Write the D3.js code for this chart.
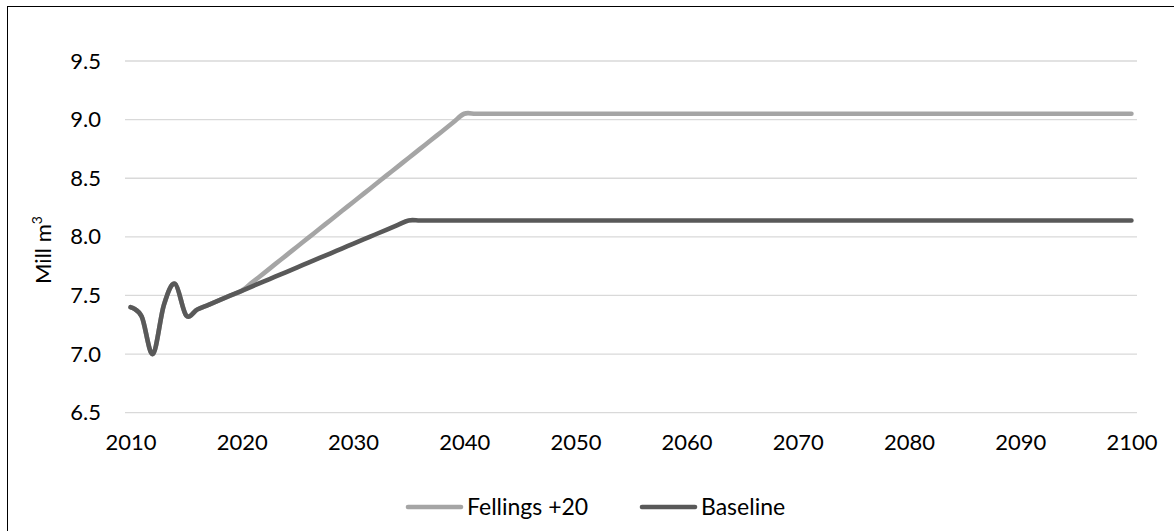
<!DOCTYPE html>
<html>
<head>
<meta charset="utf-8">
<script src="https://cdn.jsdelivr.net/npm/d3@7"></script>
<style>
  html, body { margin: 0; padding: 0; background: #fff; }
  svg text { font-family: Lato, "Open Sans", sans-serif; fill: #000; }
</style>
</head>
<body>
<svg id="chart" width="1174" height="531"></svg>
<script>
const years = [
  2010,2011,2012,2013,2014,2015,2016,2017,2018,2019,
  2020,2021,2022,2023,2024,2025,2026,2027,2028,2029,
  2030,2031,2032,2033,2034,2035,2036,2037,2038,2039,
  2040,2041,2042,2043,2044,2045,2046,2047,2048,2049,
  2050,2051,2052,2053,2054,2055,2056,2057,2058,2059,
  2060,2061,2062,2063,2064,2065,2066,2067,2068,2069,
  2070,2071,2072,2073,2074,2075,2076,2077,2078,2079,
  2080,2081,2082,2083,2084,2085,2086,2087,2088,2089,
  2090,2091,2092,2093,2094,2095,2096,2097,2098,2099,
  2100
];
const baseline = [
  7.40,7.32,7.00,7.42,7.60,7.33,7.38,7.42,7.46,7.50,
  7.54,7.58,7.62,7.66,7.70,7.74,7.78,7.82,7.86,7.90,
  7.94,7.98,8.02,8.06,8.10,8.14,8.14,8.14,8.14,8.14,
  8.14,8.14,8.14,8.14,8.14,8.14,8.14,8.14,8.14,8.14,
  8.14,8.14,8.14,8.14,8.14,8.14,8.14,8.14,8.14,8.14,
  8.14,8.14,8.14,8.14,8.14,8.14,8.14,8.14,8.14,8.14,
  8.14,8.14,8.14,8.14,8.14,8.14,8.14,8.14,8.14,8.14,
  8.14,8.14,8.14,8.14,8.14,8.14,8.14,8.14,8.14,8.14,
  8.14,8.14,8.14,8.14,8.14,8.14,8.14,8.14,8.14,8.14,
  8.14
];
const fellings20 = [
  7.40,7.32,7.00,7.42,7.60,7.33,7.38,7.42,7.46,7.50,
  7.540,7.616,7.691,7.767,7.842,7.918,7.993,8.069,8.144,8.220,
  8.295,8.371,8.446,8.522,8.597,8.673,8.748,8.824,8.899,8.975,
  9.05,9.05,9.05,9.05,9.05,9.05,9.05,9.05,9.05,9.05,
  9.05,9.05,9.05,9.05,9.05,9.05,9.05,9.05,9.05,9.05,
  9.05,9.05,9.05,9.05,9.05,9.05,9.05,9.05,9.05,9.05,
  9.05,9.05,9.05,9.05,9.05,9.05,9.05,9.05,9.05,9.05,
  9.05,9.05,9.05,9.05,9.05,9.05,9.05,9.05,9.05,9.05,
  9.05,9.05,9.05,9.05,9.05,9.05,9.05,9.05,9.05,9.05,
  9.05
];
const xTickLabels = [2010,2020,2030,2040,2050,2060,2070,2080,2090,2100];
const yTickLabels = [6.5,7.0,7.5,8.0,8.5,9.0,9.5];
const seriesNames = ["Fellings +20","Baseline"];
const seriesColors = ["#a5a5a5","#595959"];

const svg = d3.select("#chart");
const plotL = 125, plotR = 1137, plotT = 61, plotB = 412.7;

// outer frame
svg.append("rect").attr("x", 7.5).attr("y", 6.5).attr("width", 1180).attr("height", 540)
  .attr("fill", "none").attr("stroke", "#000").attr("stroke-width", 1);

const x = d3.scaleLinear().domain([years[0] - 0.5, years[years.length - 1] + 0.5]).range([plotL, plotR]);
const y = d3.scaleLinear().domain([6.5, 9.5]).range([plotB, plotT]);

// gridlines
svg.append("g").selectAll("line").data(yTickLabels).join("line")
  .attr("x1", plotL).attr("x2", plotR)
  .attr("y1", d => y(d)).attr("y2", d => y(d))
  .attr("stroke", "#d9d9d9").attr("stroke-width", 1.3);

// y axis labels
const yAxis = d3.axisLeft(y).tickValues(yTickLabels).tickFormat(d3.format(".1f")).tickSize(0).tickPadding(0);
const gy = svg.append("g").attr("transform", `translate(${plotL - 24},0)`).call(yAxis);
gy.select(".domain").remove();
gy.selectAll("text").attr("font-size", 22).attr("font-family", "Lato, 'Open Sans', sans-serif").attr("fill", "#000");

// x axis labels
const xAxis = d3.axisBottom(x).tickValues(xTickLabels).tickFormat(d3.format("d")).tickSize(0).tickPadding(0);
const gx = svg.append("g").attr("transform", `translate(0,${plotB + 22})`).call(xAxis);
gx.select(".domain").remove();
gx.selectAll("text").attr("font-size", 22).attr("font-family", "Lato, 'Open Sans', sans-serif").attr("fill", "#000");

// y title
const yt = svg.append("text").attr("transform", `translate(51,250) rotate(-90)`)
  .attr("text-anchor", "middle").attr("font-size", 22);
yt.append("tspan").text("Mill m");
yt.append("tspan").attr("dy", -9).attr("font-size", 14).text("3");

// lines
const line = d3.line().x((d, i) => x(years[i])).y(d => y(d)).curve(d3.curveCardinal.tension(0));
[fellings20, baseline].forEach((s, k) => {
  svg.append("path").datum(s).attr("d", line)
    .attr("fill", "none").attr("stroke", seriesColors[k]).attr("stroke-width", 4.6)
    .attr("stroke-linecap", "round").attr("stroke-linejoin", "round");
});

// legend
const legendX = [408, 642];
seriesNames.forEach((n, k) => {
  const g = svg.append("g");
  g.append("line").attr("x1", legendX[k]).attr("x2", legendX[k] + 53)
    .attr("y1", 507).attr("y2", 507)
    .attr("stroke", seriesColors[k]).attr("stroke-width", 4.6).attr("stroke-linecap", "round");
  g.append("text").attr("x", legendX[k] + 59).attr("y", 515).attr("font-size", 23).text(n);
});
</script>
</body>
</html>
